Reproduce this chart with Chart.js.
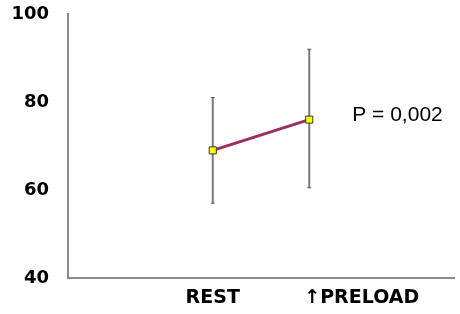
<!DOCTYPE html>
<html>
<head>
<meta charset="utf-8">
<script src="https://cdn.jsdelivr.net/npm/chart.js@4.4.1/dist/chart.umd.min.js"></script>
<style>
  html, body { margin: 0; padding: 0; background: #ffffff; }
  #wrap { width: 460px; height: 314px; position: relative; }
</style>
</head>
<body>
<div id="wrap"><canvas id="meanChart"></canvas></div>
<script>
// Data
const categories = ['REST', '\u2191PRELOAD'];
const means = [69, 76];
const lowerBars = [57, 60.5];
const upperBars = [81, 92];
const yTicks = [40, 60, 80, 100];
const pLabel = 'P = 0,002';

// Error bars drawn under the markers
const errorBarPlugin = {
    id: 'errorBars',
    beforeDatasetsDraw(chart) {
        const { ctx, scales: { x, y } } = chart;
        ctx.save();
        categories.forEach((c, i) => {
            const px = x.getPixelForValue(i);
            const top = y.getPixelForValue(upperBars[i]);
            const bot = y.getPixelForValue(lowerBars[i]);
            ctx.strokeStyle = '#7a7a7a';
            ctx.lineWidth = 2;
            ctx.beginPath();
            ctx.moveTo(px, top);
            ctx.lineTo(px, bot);
            ctx.stroke();
            // tiny caps
            ctx.lineWidth = 1;
            ctx.strokeStyle = '#555555';
            ctx.beginPath();
            ctx.moveTo(px - 2, top);
            ctx.lineTo(px + 2, top);
            ctx.moveTo(px - 2, bot);
            ctx.lineTo(px + 2, bot);
            ctx.stroke();
        });
        ctx.restore();
    }
};

// Category labels and the p-value note
const labelPlugin = {
    id: 'textLabels',
    afterDraw(chart) {
        const { ctx, scales: { x, y } } = chart;
        ctx.save();
        ctx.fillStyle = '#000000';
        ctx.font = "bold 19px 'DejaVu Sans', sans-serif";
        ctx.textBaseline = 'middle';
        ctx.textAlign = 'center';
        ctx.fillText(categories[0], x.getPixelForValue(0), 298);
        ctx.textAlign = 'left';
        ctx.fillText(categories[1], x.getPixelForValue(1) - 5, 298);

        ctx.font = "21px 'Liberation Sans', Arial, sans-serif";
        ctx.fillText(pLabel, x.getPixelForValue(1) + 43, y.getPixelForValue(77));
        ctx.restore();
    }
};

const ctx = document.getElementById('meanChart');

new Chart(ctx, {
    type: 'line',
    data: {
        datasets: [{
            data: categories.map((c, i) => ({ x: i, y: means[i] })),
            borderColor: '#9c2f62',
            borderWidth: 3,
            pointStyle: 'rect',
            pointRadius: 5,
            pointBackgroundColor: '#ffff00',
            pointBorderColor: '#333333',
            pointBorderWidth: 1,
            tension: 0
        }]
    },
    options: {
        responsive: true,
        maintainAspectRatio: false,
        animation: false,
        layout: { padding: { top: 14, right: 2, left: 0, bottom: 0 } },
        plugins: {
            legend: { display: false },
            tooltip: { enabled: false }
        },
        scales: {
            x: {
                type: 'linear',
                min: -1.5,
                max: 2.5,
                grid: { display: false, drawTicks: false },
                border: { color: '#8c8c8c', width: 2 },
                ticks: { display: false },
                afterFit(s) {
                    s.height = 36;
                    s.paddingLeft = 0;
                    s.paddingRight = 0;
                }
            },
            y: {
                min: yTicks[0],
                max: yTicks[yTicks.length - 1],
                afterBuildTicks(s) { s.ticks = yTicks.map(v => ({ value: v })); },
                grid: { display: false, drawTicks: false },
                border: { color: '#8c8c8c', width: 2 },
                ticks: {
                    color: '#000000',
                    padding: 19,
                    font: { family: "'DejaVu Sans', sans-serif", size: 18, weight: 700 }
                },
                afterFit(s) {
                    s.width = 68;
                    s.paddingTop = 0;
                    s.paddingBottom = 0;
                }
            }
        }
    },
    plugins: [errorBarPlugin, labelPlugin]
});
</script>
</body>
</html>
